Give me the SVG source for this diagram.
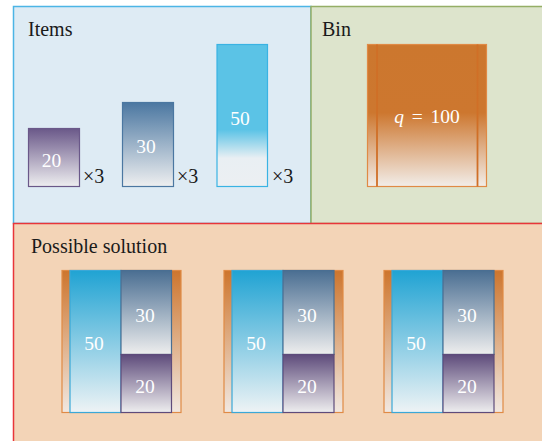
<svg xmlns="http://www.w3.org/2000/svg" width="542" height="441" viewBox="0 0 542 441">
<defs>
<linearGradient id="g20" x1="0" y1="0" x2="0" y2="1"><stop offset="0" stop-color="#6a5889"/><stop offset="1" stop-color="#eeeef0"/></linearGradient>
<linearGradient id="g30" x1="0" y1="0" x2="0" y2="1"><stop offset="0" stop-color="#4b77a1"/><stop offset="1" stop-color="#eeeff0"/></linearGradient>
<linearGradient id="g50" x1="0" y1="0" x2="0" y2="1"><stop offset="0" stop-color="#5bc3e6"/><stop offset="0.6" stop-color="#5bc3e6"/><stop offset="0.8" stop-color="#e9eff3"/><stop offset="1" stop-color="#eceff2"/></linearGradient>
<linearGradient id="gbin" x1="0" y1="0" x2="0" y2="1"><stop offset="0" stop-color="#cc772e"/><stop offset="0.48" stop-color="#cd772f"/><stop offset="1" stop-color="#f2ede9"/></linearGradient>
<linearGradient id="gstrip" x1="0" y1="0" x2="0" y2="1"><stop offset="0" stop-color="#cd752d"/><stop offset="1" stop-color="#f1e8e1"/></linearGradient>
<linearGradient id="s50" x1="0" y1="0" x2="0" y2="1"><stop offset="0" stop-color="#20a3d3"/><stop offset="1" stop-color="#eef3f5"/></linearGradient>
<linearGradient id="s30" x1="0" y1="0" x2="0" y2="1"><stop offset="0" stop-color="#4a6e92"/><stop offset="1" stop-color="#eeeeee"/></linearGradient>
<linearGradient id="s20" x1="0" y1="0" x2="0" y2="1"><stop offset="0" stop-color="#5e4b7b"/><stop offset="1" stop-color="#eeeeef"/></linearGradient>
</defs>
<style>
text{font-family:"Liberation Serif","DejaVu Serif",serif}
.h{font-size:20px;fill:#1a1a1a}
.n{font-size:19.5px;fill:#ffffff;text-anchor:middle}
.x{font-size:20px;fill:#1a1a1a}
.b{stroke:#e08a45;stroke-width:1.2}
</style>
<rect width="542" height="441" fill="#ffffff"/>
<g id="panel-items">
<rect x="13.5" y="6.5" width="297.5" height="217" fill="#deebf4" stroke="#4cb5e5" stroke-width="1.5"/>
<text class="h" x="28" y="36">Items</text>
</g>
<g id="panel-bin">
<rect x="311" y="6.5" width="232" height="217" fill="#dde4cc" stroke="#95ae66" stroke-width="1.5"/>
<text class="h" x="322" y="36">Bin</text>
</g>
<g id="panel-solution">
<rect x="13.5" y="223.5" width="530" height="219" fill="#f3d4b7" stroke="#e8353a" stroke-width="1.5"/>
<text class="h" x="31" y="253">Possible solution</text>
</g>
<g id="item20">
<rect x="28.5" y="128.5" width="51" height="58" fill="url(#g20)" stroke="#6a5889" stroke-width="1.2"/>
<text class="n" x="51.5" y="167">20</text>
<text class="x" x="83" y="183">×3</text>
</g>
<g id="item30">
<rect x="122.5" y="102.5" width="51" height="84" fill="url(#g30)" stroke="#4b77a1" stroke-width="1.2"/>
<text class="n" x="146" y="153">30</text>
<text class="x" x="177" y="183">×3</text>
</g>
<g id="item50">
<rect x="217" y="44.5" width="50.5" height="142" fill="url(#g50)" stroke="#3ab3e3" stroke-width="1.2"/>
<text class="n" x="240" y="125">50</text>
<text class="x" x="272" y="183">×3</text>
</g>
<g id="bin">
<rect x="367.5" y="44.5" width="119" height="142" fill="url(#gbin)" class="b"/>
<line x1="377" y1="44.5" x2="377" y2="186.5" stroke="#d06f27" stroke-width="1.8"/>
<line x1="477.5" y1="44.5" x2="477.5" y2="186.5" stroke="#d06f27" stroke-width="1.8"/>
<text x="427" y="123" style="font-size:19.5px;fill:#ffffff;text-anchor:middle;word-spacing:3px"><tspan font-style="italic">q</tspan> = 100</text>
</g>
<g id="solution1">
<rect x="62" y="270.5" width="119" height="142" fill="url(#gstrip)" class="b"/>
<rect x="70" y="270.5" width="51" height="142" fill="url(#s50)" stroke="#3aa8d8" stroke-width="1.2"/>
<rect x="121" y="270.5" width="50.5" height="84" fill="url(#s30)" stroke="#4a6e92" stroke-width="1.2"/>
<rect x="121" y="354.5" width="50.5" height="58" fill="url(#s20)" stroke="#5e4b7b" stroke-width="1.2"/>
<text class="n" x="94" y="350">50</text>
<text class="n" x="145" y="322">30</text>
<text class="n" x="145" y="393">20</text>
</g>
<g id="solution2">
<rect x="224" y="270.5" width="119" height="142" fill="url(#gstrip)" class="b"/>
<rect x="232" y="270.5" width="51" height="142" fill="url(#s50)" stroke="#3aa8d8" stroke-width="1.2"/>
<rect x="283" y="270.5" width="51" height="84" fill="url(#s30)" stroke="#4a6e92" stroke-width="1.2"/>
<rect x="283" y="354.5" width="51" height="58" fill="url(#s20)" stroke="#5e4b7b" stroke-width="1.2"/>
<text class="n" x="256" y="350">50</text>
<text class="n" x="307" y="322">30</text>
<text class="n" x="307" y="393">20</text>
</g>
<g id="solution3">
<rect x="384" y="270.5" width="119" height="142" fill="url(#gstrip)" class="b"/>
<rect x="392" y="270.5" width="51" height="142" fill="url(#s50)" stroke="#3aa8d8" stroke-width="1.2"/>
<rect x="443" y="270.5" width="51" height="84" fill="url(#s30)" stroke="#4a6e92" stroke-width="1.2"/>
<rect x="443" y="354.5" width="51" height="58" fill="url(#s20)" stroke="#5e4b7b" stroke-width="1.2"/>
<text class="n" x="416" y="350">50</text>
<text class="n" x="467" y="322">30</text>
<text class="n" x="467" y="393">20</text>
</g>
<g id="connectors"/>
</svg>
